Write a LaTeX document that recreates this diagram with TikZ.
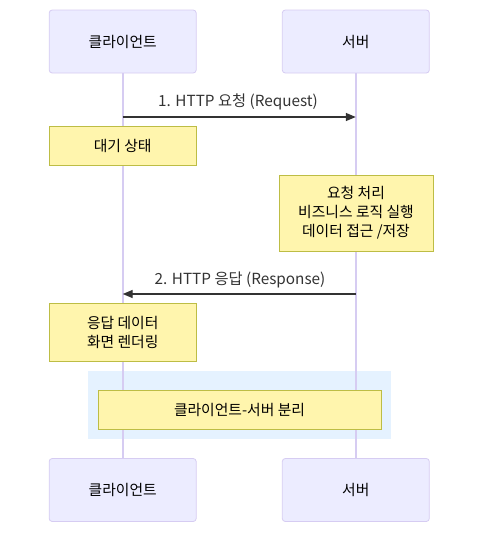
\documentclass[tikz,border=0pt]{standalone}
\usepackage{fontspec}
\setmainfont{Noto Sans CJK KR}
\usetikzlibrary{arrows.meta}
\definecolor{actfill}{HTML}{ECECFF}
\definecolor{actline}{HTML}{D6CCF2}
\definecolor{notefill}{HTML}{FFF5AD}
\definecolor{noteline}{HTML}{BDBD45}
\definecolor{txt}{HTML}{333333}
\definecolor{grpfill}{HTML}{E5F2FF}
\tikzset{
  actor/.style={draw=actline, fill=actfill, rounded corners=3pt, line width=0.8pt, minimum width=147pt, minimum height=63pt, inner sep=0pt, text=black, font=\fontsize{14.8}{17}\selectfont},
  notebox/.style={draw=noteline, fill=notefill, line width=0.8pt, inner sep=0pt, text=black, align=center, font=\fontsize{14.8}{19}\selectfont},
  lifeline/.style={draw=actline, line width=1.6pt},
  msg/.style={draw=txt, line width=1.4pt, -{Triangle[length=10pt,width=8pt]}},
  msglabel/.style={text=txt, font=\fontsize{15.3}{17}\selectfont, inner sep=0pt},
}
\begin{document}
\begin{tikzpicture}[x=1pt,y=-1pt]
\useasboundingbox (0,0) rectangle (490,542);
% group background
\fill[grpfill] (88,371) rectangle (391,439);
% actors
\node[actor] (ct) at (122.7,41.5) {클라이언트};
\node[actor] (st) at (355.8,41.5) {서버};
\node[actor] (cb) at (122.7,490) {클라이언트};
\node[actor] (sb) at (355.8,490) {서버};
% lifelines
\draw[lifeline] (ct.south) -- (cb.north);
\draw[lifeline] (st.south) -- (sb.north);
% messages
\coordinate (c1) at (122.7,117);
\coordinate (s1) at (355.8,117);
\draw[msg] (c1) -- (s1);
\node[msglabel] (l1) at (238,102) {1. HTTP 요청 (Request)};
\coordinate (s2) at (355.8,294);
\coordinate (c2) at (122.7,294);
\draw[msg] (s2) -- (c2);
\node[msglabel] (l2) at (240,279.5) {2. HTTP 응답 (Response)};
% notes
\node[notebox, minimum width=147pt, minimum height=39pt] (n1) at (122.7,145.5) {대기 상태};
\node[notebox, minimum width=154pt, minimum height=76pt] (n2) at (356,213) {요청 처리\\비즈니스 로직 실행\\데이터 접근 /저장};
\node[notebox, minimum width=147pt, minimum height=58pt] (n3) at (122.7,332) {응답 데이터\\화면 렌더링};
\node[notebox, minimum width=283pt, minimum height=39pt] (n4) at (239.5,409.5) {클라이언트-서버 분리};
\end{tikzpicture}
\end{document}
